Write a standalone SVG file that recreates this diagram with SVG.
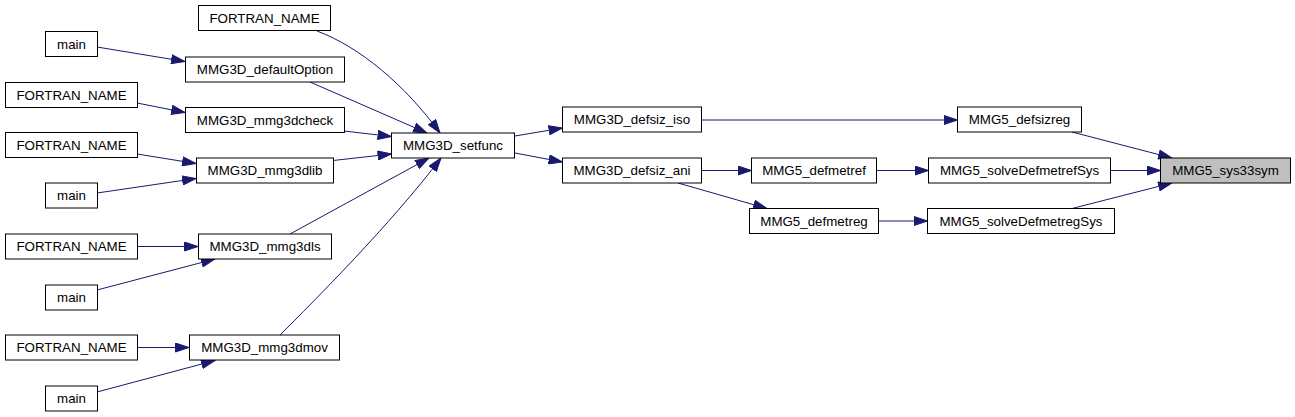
<svg xmlns="http://www.w3.org/2000/svg" width="1295" height="417" viewBox="0 0 1295 417">
<style>
.n rect{fill:#ffffff;stroke:#000000;stroke-width:1}
.n text{font-family:"Liberation Sans",Arial,Helvetica,sans-serif;font-size:13.33px;fill:#000000;text-anchor:middle}
#n23 rect{fill:#bfbfbf}
.e path{fill:none;stroke:#191970;stroke-width:1;marker-end:url(#ah)}
</style>
<defs>
<marker id="ah" markerUnits="userSpaceOnUse" markerWidth="15" markerHeight="10" refX="14" refY="5" orient="auto" viewBox="0 0 15 10">
<path d="M0.5,0.5 L14,5 L0.5,9.5 z" fill="#191970" stroke="#191970" stroke-width="1"/>
</marker>
</defs>
<rect width="1295" height="417" fill="#ffffff"/>
<g id="edges" class="e">
<path d="M97,47 L185,61.5"/>
<path d="M137,103 L185,112.5"/>
<path d="M137,154 L196,163.5"/>
<path d="M97,193 L196,178.5"/>
<path d="M137,246.5 L198,246.5"/>
<path d="M97,290 L215,259"/>
<path d="M137,347.5 L189,347.5"/>
<path d="M97,392 L215,360.5"/>
<path d="M317,31 C360,47 405,85 440,133"/>
<path d="M310,82 L427,133"/>
<path d="M344,131 L391.5,136.5"/>
<path d="M333,160.5 L391.5,154"/>
<path d="M290,234 L429,158"/>
<path d="M280,335 C315,300 390,225 441,158"/>
<path d="M515,136 L562.5,128"/>
<path d="M515,153 L562.5,162"/>
<path d="M702,120 L957.5,120"/>
<path d="M702,170.5 L751.5,170.5"/>
<path d="M678,183 L767,208.5"/>
<path d="M876,170.5 L928.5,170.5"/>
<path d="M878,221 L927.5,221"/>
<path d="M1072,132 L1172,158"/>
<path d="M1111,170.5 L1160.5,170.5"/>
<path d="M1072,208.5 L1172,183"/>
</g>
<g id="n1" class="n"><rect x="198.5" y="5.5" width="132" height="25"/><text x="264.5" y="22.5">FORTRAN_NAME</text></g>
<g id="n2" class="n"><rect x="45.5" y="31.5" width="52" height="25"/><text x="71.5" y="48.5">main</text></g>
<g id="n3" class="n"><rect x="185.5" y="57" width="159" height="25"/><text x="265" y="74">MMG3D_defaultOption</text></g>
<g id="n4" class="n"><rect x="5.5" y="82.5" width="132" height="25"/><text x="71.5" y="99.5">FORTRAN_NAME</text></g>
<g id="n5" class="n"><rect x="185.5" y="107.5" width="159" height="25"/><text x="265" y="124.5">MMG3D_mmg3dcheck</text></g>
<g id="n6" class="n"><rect x="5.5" y="132.5" width="132" height="25"/><text x="71.5" y="149.5">FORTRAN_NAME</text></g>
<g id="n7" class="n"><rect x="196.5" y="158" width="137" height="25"/><text x="265" y="175">MMG3D_mmg3dlib</text></g>
<g id="n8" class="n"><rect x="45.5" y="183" width="52" height="25"/><text x="71.5" y="200">main</text></g>
<g id="n9" class="n"><rect x="5.5" y="234" width="132" height="25"/><text x="71.5" y="251">FORTRAN_NAME</text></g>
<g id="n10" class="n"><rect x="198.5" y="234" width="133" height="25"/><text x="265" y="251">MMG3D_mmg3dls</text></g>
<g id="n11" class="n"><rect x="45.5" y="285" width="52" height="25"/><text x="71.5" y="302">main</text></g>
<g id="n12" class="n"><rect x="5.5" y="335" width="132" height="25"/><text x="71.5" y="352">FORTRAN_NAME</text></g>
<g id="n13" class="n"><rect x="189.5" y="335" width="150" height="25"/><text x="264.5" y="352">MMG3D_mmg3dmov</text></g>
<g id="n14" class="n"><rect x="45.5" y="386" width="52" height="25"/><text x="71.5" y="403">main</text></g>
<g id="n15" class="n"><rect x="391.5" y="133" width="123" height="25"/><text x="453" y="150">MMG3D_setfunc</text></g>
<g id="n16" class="n"><rect x="562.5" y="107" width="139" height="25"/><text x="632" y="124">MMG3D_defsiz_iso</text></g>
<g id="n17" class="n"><rect x="562.5" y="158" width="139" height="25"/><text x="632" y="175">MMG3D_defsiz_ani</text></g>
<g id="n18" class="n"><rect x="957.5" y="107" width="124" height="25"/><text x="1019.5" y="124">MMG5_defsizreg</text></g>
<g id="n19" class="n"><rect x="751.5" y="158" width="125" height="25"/><text x="814" y="175">MMG5_defmetref</text></g>
<g id="n20" class="n"><rect x="749.5" y="208.5" width="129" height="25"/><text x="814" y="225.5">MMG5_defmetreg</text></g>
<g id="n21" class="n"><rect x="928.5" y="158" width="182" height="25"/><text x="1019.5" y="175">MMG5_solveDefmetrefSys</text></g>
<g id="n22" class="n"><rect x="927.5" y="208.5" width="187" height="25"/><text x="1021" y="225.5">MMG5_solveDefmetregSys</text></g>
<g id="n23" class="n"><rect x="1160.5" y="158" width="130" height="25"/><text x="1225.5" y="175">MMG5_sys33sym</text></g>
</svg>
